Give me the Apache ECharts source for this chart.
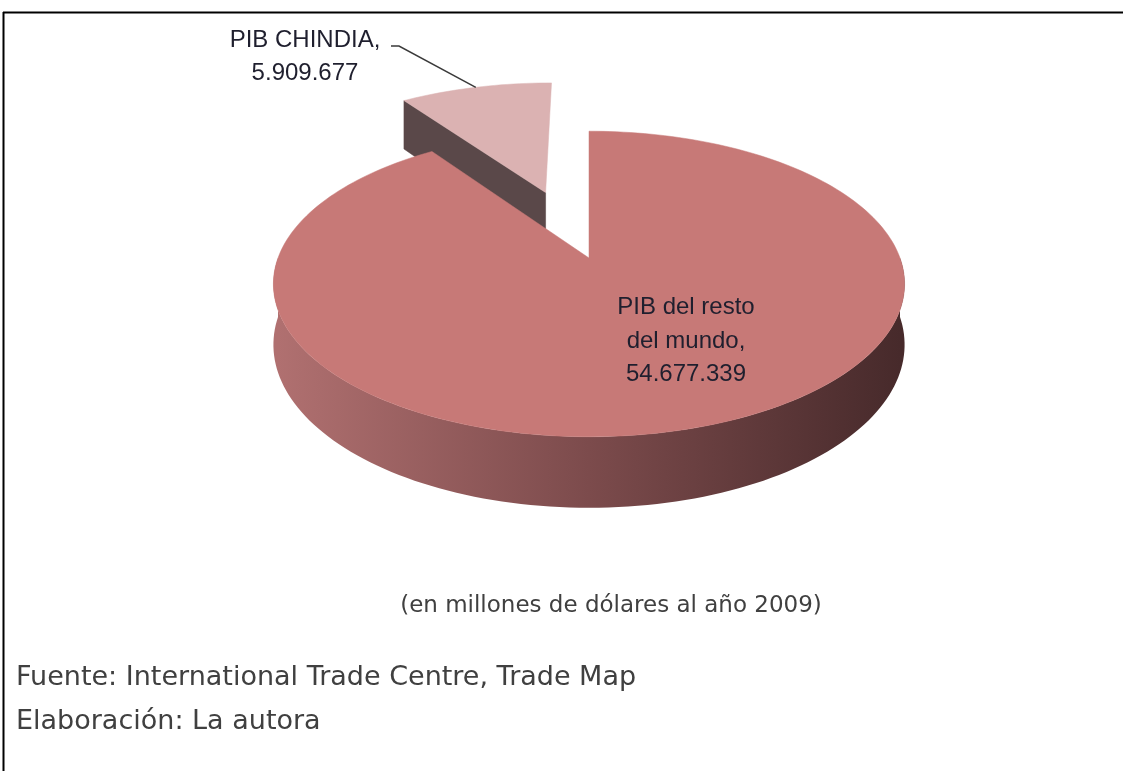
<!DOCTYPE html>
<html>
<head>
<meta charset="utf-8">
<script src="https://cdn.jsdelivr.net/npm/echarts@6/dist/echarts.min.js"></script>
<style>
  html, body { margin: 0; padding: 0; background: #fff; }
  #chart { width: 1123px; height: 771px; }
</style>
</head>
<body>
<div id="chart"></div>
<script>
// datos (millones de dólares, 2009)
var sliceNames = ['PIB CHINDIA', 'PIB del resto del mundo'];
var sliceValues = [5909677, 54677339];
var sliceLabels = ['PIB CHINDIA,\n5.909.677', 'PIB del resto\ndel mundo,\n54.677.339'];

var total = sliceValues.reduce(function (a, b) { return a + b; }, 0);

// pseudo 3D: centro, radio, aplanado, perspectiva, grosor
var CX = 589, CY = 258, R = 311, K = 0.477, P = 0.17, H = 59;
var explode = [0.5, 0];
var topColors = ['#dbb2b2', '#c77977'];
var faceColors = ['#5a4849', '#6e4344'];

function proj(u, v, z) {
    var s = 1 / (1 + P * v);
    return [CX + R * u * s, CY - R * K * v * s + H * z * s];
}

function arcPoints(ou, ov, a0, a1, z) {
    var pts = [];
    var n = Math.max(2, Math.ceil((a1 - a0) / 1.5));
    for (var k = 0; k <= n; k++) {
        var a = (a0 + (a1 - a0) * k / n) * Math.PI / 180;
        pts.push(proj(ou + Math.cos(a), ov + Math.sin(a), z));
    }
    return pts;
}

var sideGradient = new echarts.graphic.LinearGradient(CX - R, 0, CX + R, 0, [
    { offset: 0, color: '#b07070' },
    { offset: 0.5, color: '#7c4b4c' },
    { offset: 1, color: '#472a2b' }
], true);

function renderSlice(params, api) {
    var i = params.dataIndex;
    var before = 0;
    for (var j = 0; j < i; j++) before += sliceValues[j];
    var a0 = 90 + before / total * 360;
    var a1 = a0 + api.value(0) / total * 360;
    var mid = (a0 + a1) / 2 * Math.PI / 180;
    var ou = explode[i] * Math.cos(mid), ov = explode[i] * Math.sin(mid);
    var children = [];

    // caras radiales visibles
    [[a0, a0 - 90], [a1, a1 + 90]].forEach(function (e) {
        if (Math.sin(e[1] * Math.PI / 180) < -0.05) {
            var r = e[0] * Math.PI / 180;
            var eu = ou + Math.cos(r), ev = ov + Math.sin(r);
            children.push({
                type: 'polygon',
                shape: { points: [proj(ou, ov, 0), proj(eu, ev, 0), proj(eu, ev, 1), proj(ou, ov, 1)] },
                style: { fill: faceColors[i], stroke: faceColors[i], lineWidth: 0.5 }
            });
        }
    });

    // lateral frontal (180°..360°)
    var s0 = Math.max(a0, 180), s1 = Math.min(a1, 360);
    if (s1 > s0) {
        var top = arcPoints(ou, ov, s0, s1, 0);
        var bot = arcPoints(ou, ov, s0, s1, 1).reverse();
        children.push({
            type: 'polygon',
            shape: { points: top.concat(bot) },
            style: { fill: sideGradient }
        });
    }

    // cara superior
    children.push({
        type: 'polygon',
        shape: { points: [proj(ou, ov, 0)].concat(arcPoints(ou, ov, a0, a1, 0)) },
        style: { fill: topColors[i], stroke: topColors[i], lineWidth: 0.5 }
    });

    // etiquetas
    if (explode[i] > 0) {
        var rim = proj(ou + Math.cos(mid), ov + Math.sin(mid), 0);
        children.push({
            type: 'polyline',
            shape: { points: [[391, 46], [399, 46], rim] },
            style: { stroke: '#3a3a3a', lineWidth: 1.5, fill: null }
        });
        children.push({
            type: 'text', x: 305, y: 57,
            style: {
                text: sliceLabels[i], fill: '#1f1f2e', fontSize: 24,
                fontFamily: 'Liberation Sans', align: 'center',
                verticalAlign: 'middle', lineHeight: 33
            }
        });
    } else {
        children.push({
            type: 'text', x: 686, y: 341,
            style: {
                text: sliceLabels[i], fill: '#1f1f2e', fontSize: 24,
                fontFamily: 'Liberation Sans', align: 'center',
                verticalAlign: 'middle', lineHeight: 33.5
            }
        });
    }
    return { type: 'group', children: children };
}

var chart = echarts.init(document.getElementById('chart'), null, { renderer: 'canvas' });
var option = {
    backgroundColor: '#ffffff',
    animation: false,
    graphic: [
        { type: 'line', shape: { x1: 3, y1: 12.5, x2: 1123, y2: 12.5 }, style: { stroke: '#000', lineWidth: 2 } },
        { type: 'line', shape: { x1: 3.5, y1: 12, x2: 3.5, y2: 771 }, style: { stroke: '#000', lineWidth: 2 } },
        {
            type: 'text', x: 611, y: 606,
            style: { text: '(en millones de dólares al año 2009)', fill: '#404040', font: '23px "DejaVu Sans"', align: 'center', textAlign: 'center', verticalAlign: 'middle', textVerticalAlign: 'middle' }
        },
        {
            type: 'text', x: 16, y: 678,
            style: { text: 'Fuente: International Trade Centre, Trade Map', fill: '#404040', font: '27px "DejaVu Sans"', verticalAlign: 'middle', textVerticalAlign: 'middle' }
        },
        {
            type: 'text', x: 16, y: 722,
            style: { text: 'Elaboración: La autora', fill: '#404040', font: '27px "DejaVu Sans"', verticalAlign: 'middle', textVerticalAlign: 'middle' }
        }
    ],
    series: [{
        type: 'custom',
        coordinateSystem: 'none',
        renderItem: renderSlice,
        data: sliceValues.map(function (v, k) { return { name: sliceNames[k], value: [v] }; })
    }]
};
chart.setOption(option);
</script>
</body>
</html>
